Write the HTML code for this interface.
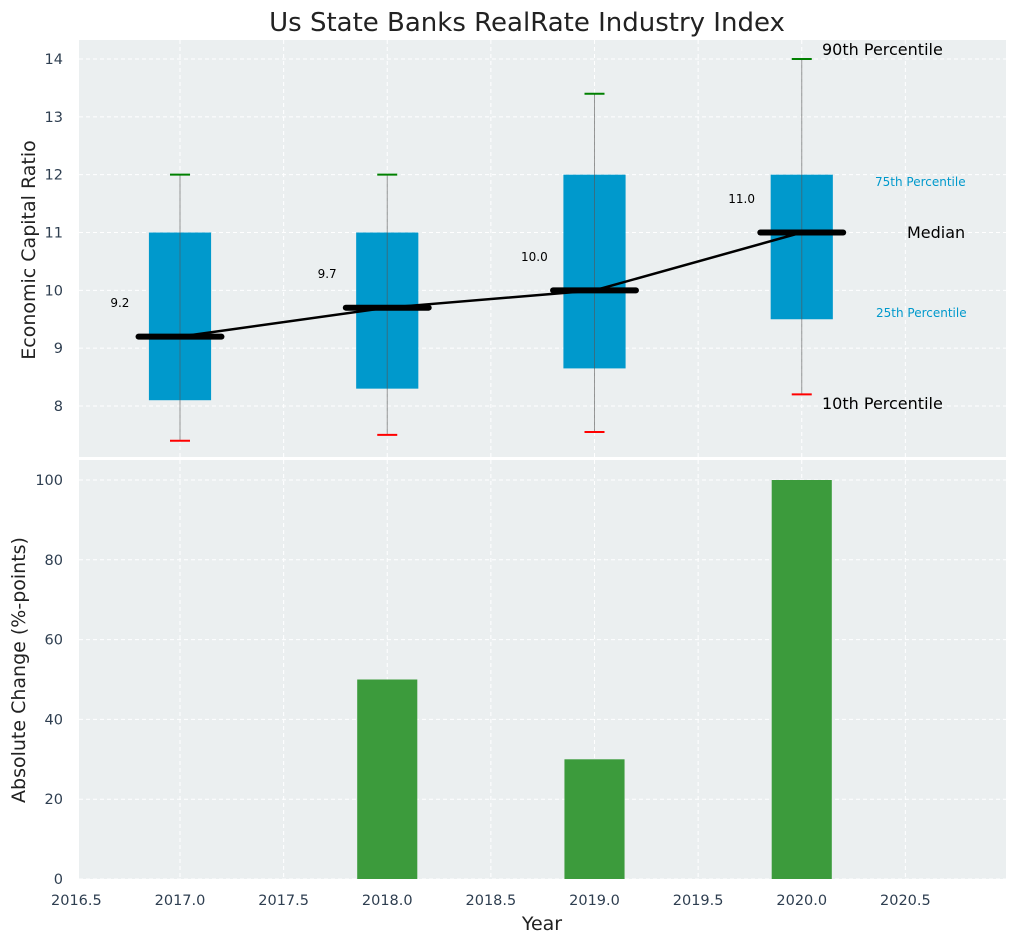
<!DOCTYPE html>
<html><head><meta charset="utf-8">
<style>
body{margin:0;background:#fff;font-family:"Liberation Sans","DejaVu Sans",sans-serif;}
svg text{font-family:"DejaVu Sans","Liberation Sans",sans-serif;}
</style></head>
<body>
<svg id="chart" width="1016" height="942" xmlns="http://www.w3.org/2000/svg">
</svg>
<script>
const years=[2017,2018,2019,2020];
const p10=[7.4,7.5,7.55,8.2];
const p25=[8.1,8.3,8.65,9.5];
const medians=[9.2,9.7,10.0,11.0];
const p75=[11,11,12,12];
const p90=[12,12,13.4,14];
const changes=[0,50,30,100];
const xTicks=[2016.5,2017.0,2017.5,2018.0,2018.5,2019.0,2019.5,2020.0,2020.5];
const yTopTicks=[8,9,10,11,12,13,14];
const yBotTicks=[0,20,40,60,80,100];

const NS="http://www.w3.org/2000/svg";
const svg=document.getElementById('chart');
function mk(tag,attrs,parent){const e=document.createElementNS(NS,tag);for(const k in attrs)e.setAttribute(k,attrs[k]);(parent||svg).appendChild(e);return e;}
const X=v=>180+(v-2017)*207.25;
const L=79,R=1006,T1=40,B1=457,T2=460,B2=879;
const Y1=v=>406-(v-8)*57.83;
const Y2=v=>879-v*3.99;
const dx=207.25;

let e;
e=mk('rect',{x:L,y:T1,width:R-L,height:B1-T1,fill:'#ebeff0'});


e=mk('rect',{x:L,y:T2,width:R-L,height:B2-T2,fill:'#ebeff0'});



xTicks.forEach(v=>{
  [[T1,B1],[T2,B2]].forEach(([a,b])=>{
    e=mk('line',{x1:X(v),x2:X(v),y1:a,y2:b,stroke:'#fff','stroke-dasharray':'4,3','stroke-width':1});
    
    
  });
  e=mk('text',{x:X(v),y:905,'text-anchor':'middle','font-size':14.5,fill:'#2e3e50'});
  e.textContent=v.toFixed(1);
  
  
});
yTopTicks.forEach(v=>{
  e=mk('line',{x1:L,x2:R,y1:Y1(v),y2:Y1(v),stroke:'#fff','stroke-dasharray':'4,3'});
  
  
  e=mk('text',{x:63,y:Y1(v)+5,'text-anchor':'end','font-size':14.5,fill:'#2e3e50'});
  e.textContent=v;
  
  
});
yBotTicks.forEach(v=>{
  e=mk('line',{x1:L,x2:R,y1:Y2(v),y2:Y2(v),stroke:'#fff','stroke-dasharray':'4,3'});
  
  
  e=mk('text',{x:63,y:Y2(v)+5,'text-anchor':'end','font-size':14.5,fill:'#2e3e50'});
  e.textContent=v;
  
  
});

years.forEach((yr,i)=>{
  const cx=X(yr),hw=0.15*dx;
  e=mk('rect',{x:cx-hw,y:Y1(p75[i]),width:2*hw,height:Y1(p25[i])-Y1(p75[i]),fill:'#0099cc'});
  
  
  e=mk('line',{x1:cx,x2:cx,y1:Y1(p90[i]),y2:Y1(p10[i]),stroke:'#555','stroke-opacity':0.6,'stroke-width':1});
  
  
  e=mk('line',{x1:cx-10,x2:cx+10,y1:Y1(p90[i]),y2:Y1(p90[i]),stroke:'green','stroke-width':2});
  
  
  e=mk('line',{x1:cx-10,x2:cx+10,y1:Y1(p10[i]),y2:Y1(p10[i]),stroke:'red','stroke-width':2});
  
  
});
e=mk('polyline',{points:years.map((y,i)=>X(y)+','+Y1(medians[i])).join(' '),fill:'none',stroke:'#000','stroke-width':2.5});


years.forEach((yr,i)=>{
  const cx=X(yr),hw=0.2*dx;
  e=mk('line',{x1:cx-hw,x2:cx+hw,y1:Y1(medians[i]),y2:Y1(medians[i]),stroke:'#000','stroke-width':6,'stroke-linecap':'round'});
  
  
  e=mk('text',{x:cx-0.29*dx,y:Y1(medians[i]+0.58)+4,'text-anchor':'middle','font-size':12,fill:'#000'});
  e.textContent=medians[i].toFixed(1);
  
  
});
const ann=[[822,55,'90th Percentile',16,'#000'],[875,186,'75th Percentile',12,'#0099cc'],[907,238,'Median',16,'#000'],[876,317,'25th Percentile',12,'#0099cc'],[822,409,'10th Percentile',16,'#000']];
ann.forEach(a=>{
  e=mk('text',{x:a[0],y:a[1],'font-size':a[3],fill:a[4]});
  e.textContent=a[2];
  
  
});
years.forEach((yr,i)=>{
  const cx=X(yr),hw=0.145*dx;
  e=mk('rect',{x:cx-hw,y:Y2(changes[i]),width:2*hw,height:Y2(0)-Y2(changes[i]),fill:'#3c9b3c'});
  
  
});
e=mk('text',{x:527,y:31,'text-anchor':'middle','font-size':26,fill:'#222'});
e.textContent='Us State Banks RealRate Industry Index';


e=mk('text',{x:542,y:930,'text-anchor':'middle','font-size':19,fill:'#222'});
e.textContent='Year';


e=mk('text',{x:0,y:0,'text-anchor':'middle','font-size':19,fill:'#222',transform:'translate(35,250) rotate(-90)'});
e.textContent='Economic Capital Ratio';


e=mk('text',{x:0,y:0,'text-anchor':'middle','font-size':19,fill:'#222',transform:'translate(25,670) rotate(-90)'});
e.textContent='Absolute Change (%-points)';


</script>
</body></html>
